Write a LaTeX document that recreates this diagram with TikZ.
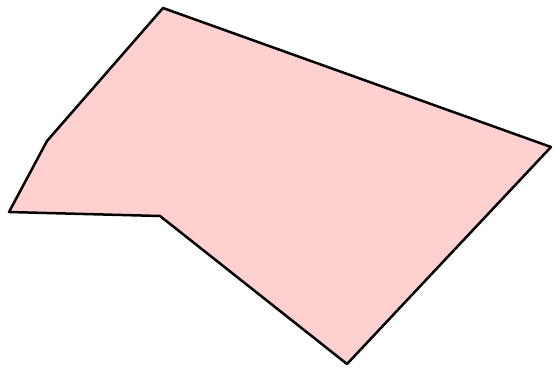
\documentclass[tikz,border=0pt]{standalone}
\definecolor{polyfill}{RGB}{255,208,208}
\tikzset{poly/.style={draw=black,fill=polyfill,line width=2.5pt,line join=round}}
\begin{document}
\begin{tikzpicture}[x=1pt,y=-1pt]
\useasboundingbox (0,0) rectangle (555,370);
\coordinate (p1) at (163,8);
\coordinate (p2) at (551,147);
\coordinate (p3) at (347,364);
\coordinate (p4) at (160,216);
\coordinate (p5) at (9,212);
\coordinate (p6) at (47,141);
\draw[poly] (p1) -- (p2) -- (p3) -- (p4) -- (p5) -- (p6) -- cycle;
\end{tikzpicture}
\end{document}
